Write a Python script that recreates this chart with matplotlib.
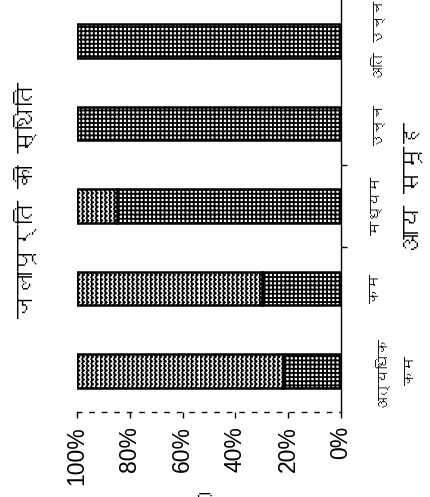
import warnings
import numpy as np
import matplotlib
matplotlib.use('Agg')
import matplotlib.pyplot as plt
import matplotlib.hatch as mhatch
from matplotlib import font_manager
from matplotlib.ft2font import FT2Font
from matplotlib.path import Path

warnings.filterwarnings('ignore')

# data (bottom segment = grid, top segment = zigzag)
categories = ['अत्यधिक\nकम', 'कम', 'मध्यम', 'उच्च', 'अति उच्च']
grid_part = [22, 30, 85, 100, 100]
zigzag_part = [78, 70, 15, 0, 0]
pct_ticks = [0, 20, 40, 60, 80, 100]
pct_labels = ['0%', '20%', '40%', '60%', '80%', '100%']
title = 'जलापूर्ति की स्थिति'
xlabel = 'आय समूह'
ylabel = 'प्रतिशत'


def find_font(codepoint):
    for f in font_manager.fontManager.ttflist:
        try:
            if codepoint in FT2Font(f.fname).get_charmap():
                return f.name
        except Exception:
            continue
    return None


class ZigZagHatch(mhatch.HatchPatternBase):
    """vertical zig-zag lines, selected with 'z' in the hatch string"""

    def __init__(self, hatch, density):
        self.num_lines = 22 * hatch.count('z')
        self.steps = 22
        self.num_vertices = self.num_lines * (2 * self.steps + 1)

    def set_vertices_and_codes(self, vertices, codes):
        n, m = self.num_lines, self.steps
        k = 2 * m + 1
        ys = np.linspace(0, 1, k)
        amp = 0.55 / n
        for i in range(n):
            xs = i / n + np.where(np.arange(k) % 2 == 0, 0.0, amp)
            vertices[i * k:(i + 1) * k, 0] = xs
            vertices[i * k:(i + 1) * k, 1] = ys
        codes[:] = Path.LINETO
        codes[::k] = Path.MOVETO


mhatch._hatch_types.append(ZigZagHatch)

deva = find_font(0x0915)
families = [deva, 'Liberation Sans', 'DejaVu Sans'] if deva else ['Liberation Sans', 'DejaVu Sans']
plt.rcParams['font.family'] = families
plt.rcParams['hatch.linewidth'] = 1.0

fig = plt.figure(figsize=(4.31, 4.97), dpi=100)
ax = fig.add_axes([77 / 431, 85 / 497, 264 / 431, 412 / 497])

y = np.arange(len(categories))
with plt.rc_context({'hatch.linewidth': 1.3}):
    ax.barh(y, grid_part, height=0.41, color='white', edgecolor='black',
            hatch='++++', linewidth=1.8)
with plt.rc_context({'hatch.linewidth': 1.0}):
    ax.barh(y, zigzag_part, left=grid_part, height=0.41, color='white',
            edgecolor='black', hatch='z', linewidth=1.8)

ax.set_xlim(100, 0)
ax.set_ylim(-0.5, 4.5)

ax.set_xticks(pct_ticks)
ax.set_xticklabels(pct_labels, rotation=90, fontsize=16.5,
                   family=['Liberation Sans', 'DejaVu Sans'])
ax.tick_params(axis='x', direction='out', length=4, width=1, pad=6)

# category names on the right, one line at a time (rotated text)
ax.yaxis.tick_right()
ax.set_yticks([])
ax.set_yticks([1.5, 2.5], minor=True)
ax.tick_params(axis='y', which='minor', direction='out', length=4, width=1)
for i, name in enumerate(categories):
    for j, line in enumerate(name.split('\n')):
        ax.annotate(line, xy=(1, y[i]), xycoords=('axes fraction', 'data'),
                    xytext=(21 + j * 25, 0), textcoords='offset points',
                    rotation=90, ha='left', va='center', fontsize=10.5)

for side in ['top', 'left']:
    ax.spines[side].set_visible(False)
ax.spines['right'].set_linewidth(1.0)
ax.spines['bottom'].set_linewidth(1.0)
ax.spines['bottom'].set_linestyle((0, (3, 6)))

fig.text(25 / 431, 1 - 200 / 497, title, rotation=90, ha='center',
         va='center', fontsize=17)
fig.text(413 / 431, 1 - 187 / 497, xlabel, rotation=90, ha='center',
         va='center', fontsize=17)
fig.text(208 / 431, 1 - 493 / 497, ylabel, ha='center', va='top',
         fontsize=16)

fig.savefig('out.png', dpi=100)
